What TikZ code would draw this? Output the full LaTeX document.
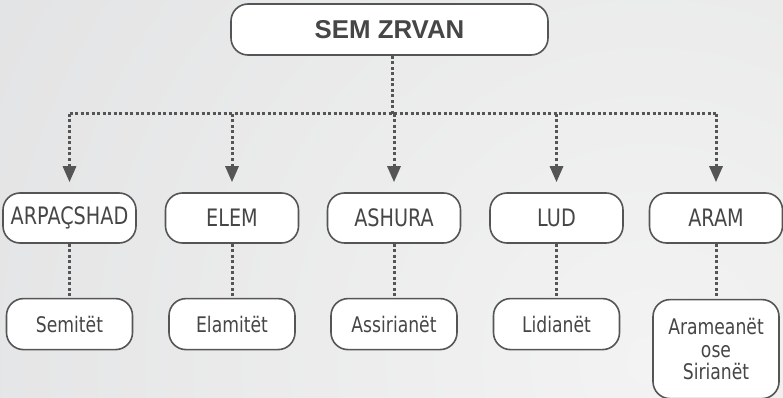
\documentclass[tikz,border=0pt]{standalone}
\usepackage{fontspec}
\setmainfont{Liberation Sans}
\newfontfamily\narrowfont{DejaVu Sans}[FakeStretch=0.8]
\usetikzlibrary{arrows.meta,positioning}

\definecolor{edgegray}{HTML}{555555}
\definecolor{textgray}{HTML}{464646}
\definecolor{bgdark}{HTML}{D7D8DA}
\definecolor{bglight}{HTML}{F3F3F3}

\tikzset{
  box/.style={draw=edgegray, line width=1.6pt, fill=white, rounded corners=17pt,
    inner sep=0pt, align=center, text=textgray},
  parent/.style={box, minimum width=133pt, minimum height=50pt,
    font=\narrowfont\fontsize{24}{24}\selectfont},
  child/.style={box, minimum width=126pt, minimum height=51pt,
    font=\narrowfont\fontsize{21.5}{22.5}\selectfont},
  link/.style={draw=edgegray, line width=3pt, dash pattern=on 3pt off 2.5pt},
  arrow/.style={link, -{Triangle[width=13pt,length=16pt]}, shorten >=10pt},
}

\begin{document}
\begin{tikzpicture}[x=1pt,y=-1pt]
            \useasboundingbox (0,0) rectangle (783,398);
            % background
            \fill[bgdark] (0,0) rectangle (783,398);
            \begin{scope}
              \clip (0,0) rectangle (783,398);
              \shade[inner color=bglight, outer color=bgdark] (650,360) circle (1300);
            \end{scope}

            \node[box, minimum width=317pt, minimum height=51pt,
                  font=\bfseries\fontsize{25.8}{26}\selectfont] (zrvan) at (389.5,29.5) {SEM ZRVAN};

            \node[parent] (arp)  at (69.5,218)  {ARPAÇSHAD};
            \node[parent] (elem) at (232,218)   {ELEM};
            \node[parent] (ash)  at (394,218)   {ASHURA};
            \node[parent] (lud)  at (556.5,218) {LUD};
            \node[parent] (aram) at (716,218)   {ARAM};

            \node[child, below=54pt of arp]  (semit) {Semitët};
            \node[child, below=54pt of elem] (elam)  {Elamitët};
            \node[child, below=54pt of ash]  (assir) {Assirianët};
            \node[child, below=54pt of lud]  (lidi)  {Lidianët};
            \node[child, below=55pt of aram, minimum height=99pt] (arame) {Arameanët\\ose\\Sirianët};

            \coordinate (bus) at (392,114);
            \draw[link] (bus |- zrvan.south) -- (bus);
            \draw[link] (bus -| arp) -- (bus -| aram);
            \foreach \n in {arp, elem, ash, lud, aram}
              \draw[arrow] (bus -| \n) -- (\n.north);

            \draw[link] (arp)  -- (semit);
            \draw[link] (elem) -- (elam);
            \draw[link] (ash)  -- (assir);
            \draw[link] (lud)  -- (lidi);
            \draw[link] (aram) -- (arame);

\end{tikzpicture}
\end{document}
